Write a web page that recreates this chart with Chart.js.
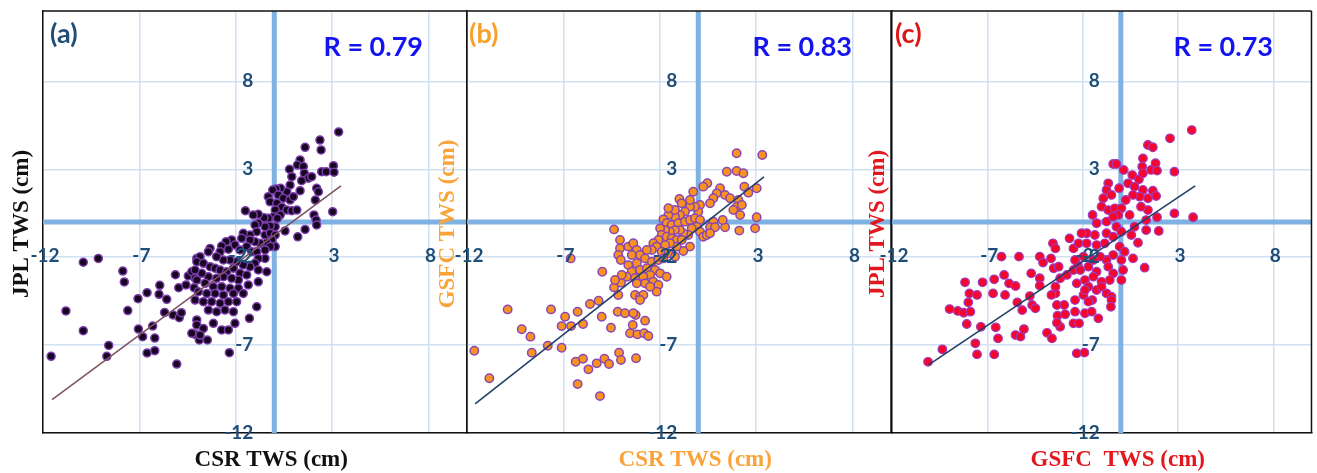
<!DOCTYPE html>
<html lang="en">
<head>
<meta charset="UTF-8" />
<title>TWS scatter comparison</title>
<script src="https://cdn.jsdelivr.net/npm/chart.js"></script>
<style>
  html, body { margin: 0; padding: 0; background: #fff; }
  #wrap { position: relative; width: 1317px; height: 473px; overflow: hidden; }
  #wrap canvas { position: absolute; left: 0; top: 0; }
</style>
</head>
<body>
<div id="wrap">
  <canvas id="chartA" width="1317" height="473"></canvas>
  <canvas id="chartB" width="1317" height="473"></canvas>
  <canvas id="chartC" width="1317" height="473"></canvas>
</div>
<script>
// tick values shared by all three panels
const xTicks = [-12, -7, -2, 3, 8];
const yTicks = [-12, -7, -2, 3, 8];

// (a) CSR vs JPL
const csrA = [-9.91,-9.13,-7.86,-7.78,-10.81,-9.91,-11.58,-8.59,-8.69,-7.6,-7.07,-6.6,-7.05,-6.83,-6.31,-6.2,-6.6,-6.2,-5.94,-5.98,-5.58,-5.69,-5.13,-4.96,-5.25,-4.93,-4.82,-5.06,-4.58,-4.46,-4.28,-4.11,-4.02,-4.16,-4.02,-4.11,-4.28,-4.02,-2.33,-0.91,-1.29,-3.89,-3.47,
  3.34,2.37,2.43,1.6,1.34,1.2,1.51,0.79,0.91,1.56,1.77,1.42,1.94,2.46,2.69,3.07,3.1,2.2,2.29,2.13,1.34,0.82,0.65,0.33,0.09,-0.08,0.21,0.47,0.82,0.99,-0.31,-0.22,0.13,0.39,0.65,0.91,1.17,0.05,0.31,-0.03,-0.31,-0.53,-0.83,-1.09,-1.5,3.03,2.06,2.17,2.2,1.6,1.22,0.56,0.16,0.05,-0.21,-0.48,-0.83,-1.0,-0.91,-1.26,-1.61,-1.69,-0.48,-0.21,0.05,-0.12,-0.39,0.05,-0.21,-0.74,-1.0,-1.26,-2.21,-2.04,-2.5,-2.73,-2.38,-2.81,-3.33,-3.42,-1.78,-1.43,-1.17,-0.91,-0.48,-0.48,-0.83,-1.0,-1.26,-0.39,-0.83,-1.61,-1.95,-2.3,-2.64,-2.99,-3.85,-4.02,-3.68,-3.33,-3.07,-2.81,-2.47,-2.12,-1.78,-1.43,-1.86,-2.21,-2.64,-2.99,-3.42,-3.76,-4.11,-4.02,-3.59,-3.16,-2.73,-2.3,-1.86,-0.83,-1.35,-1.61,-2.12,-2.64,-3.07,-3.5,-3.94,-4.11,-3.68,-3.25,-2.81,-2.38,-1.95,-3.42,-2.99,-2.56,-2.12,-3.68,-3.16,-2.73,-2.38,-2.04,-3.85];
const jplA = [-2.29,-2.07,-2.79,-3.41,-5.06,-6.18,-7.64,-7.02,-7.64,-5.04,-4.36,-4.02,-6.09,-6.52,-5.92,-6.6,-7.45,-7.32,-3.6,-4.11,-4.4,-5.14,-3.0,-3.74,-5.29,-5.44,-5.16,-8.08,-3.58,-3.07,-2.83,-3.2,-2.07,-3.74,-5.57,-6.39,-6.33,-5.86,-7.43,-4.82,-5.48,-6.71,-6.71,
  5.12,4.66,4.1,4.25,3.53,3.24,3.15,3.0,2.58,2.77,2.49,2.35,2.58,2.86,2.86,3.2,2.83,1.92,1.72,1.25,1.78,2.1,1.72,1.92,1.88,1.82,1.54,1.35,1.25,1.44,1.44,1.15,1.06,0.84,0.68,0.64,0.68,0.68,0.4,0.3,0.21,0.24,0.44,0.4,0.64,0.59,0.4,0.11,-0.17,-0.42,-0.84,-0.51,0.21,-0.27,-0.23,-0.27,-0.07,-0.17,-0.55,-0.74,-0.64,-0.93,-0.74,-0.64,-0.74,-1.02,-1.18,-1.4,-1.4,-1.21,-1.12,-1.02,-1.02,-1.31,-1.12,-1.37,-1.55,-1.69,-1.5,-1.69,-1.59,-1.4,-1.69,-1.69,-2.07,-1.59,-2.07,-2.35,-2.54,-2.83,-2.73,-2.45,-2.26,-2.16,-2.16,-1.97,-1.97,-2.26,-2.35,-2.54,-2.63,-2.73,-2.83,-2.63,-2.92,-3.01,-3.3,-3.2,-3.11,-3.2,-3.11,-2.92,-2.73,-3.3,-3.49,-3.68,-3.68,-3.77,-3.77,-3.4,-3.58,-4.06,-4.06,-4.15,-4.06,-4.06,-3.96,-4.44,-4.53,-4.53,-4.62,-4.53,-4.53,-5.01,-5.1,-5.01,-5.1,-6.05,-5.76,-6.14,-6.14,-5.76,-6.43];

// (b) CSR vs GSFC
const csrB = [-9.89,-7.64,-9.16,-8.71,-11.62,-10.84,-8.64,-7.81,-7.09,-7.09,-6.91,-6.6,-6.26,-5.98,-5.62,-5.17,-5.01,-4.53,-4.18,-4.37,-4.01,-4.15,-6.36,-5.98,-5.7,-5.27,-4.87,-4.63,-4.11,-4.01,-6.26,-5.1,-3.23,-3.8,-3.25,-2.76,-3.4,-3.54,-3.16,-2.81,-2.59,-4.98,-4.37,-6.62,
  1.99,3.32,1.48,1.99,2.34,0.47,0.26,-0.26,-0.98,2.39,3.03,2.6,1.13,0.96,0.78,0.61,1.39,1.65,2.08,1.99,2.26,1.82,2.17,3.03,2.95,2.13,1.39,1.27,0.78,0.61,0.09,0.0,-0.17,-0.43,-0.69,-0.95,-1.21,-1.55,-1.81,-1.64,-1.38,-1.03,-0.69,-0.43,-0.17,0.09,-0.08,-0.34,0.09,0.26,0.44,-0.52,-0.78,-0.95,-1.21,-1.47,-1.72,-1.98,-1.9,-1.64,-1.38,-1.12,-0.86,-0.43,-0.78,-1.12,-1.47,-1.72,-2.07,-2.33,-2.16,-2.41,-1.9,-1.55,-1.21,-4.06,-4.06,-4.15,-4.02,-3.63,-3.37,-3.19,-3.45,-3.02,-2.67,-2.76,-2.41,-2.07,-1.81,-3.19,-3.63,-3.45,-3.02,-2.67,-2.24,-1.98,-1.64,-2.5,-2.85,-3.28,-3.71,-3.97,-3.19,-2.76,-2.33,-2.07,-2.16,-2.5,-4.32,-3.28,-3.02,-2.85,-3.02,-3.37,0.87,0.61,-0.86,-1.21,-1.55,-0.43];
const gsfcB = [-4.97,-4.97,-6.1,-6.52,-7.32,-8.89,-7.43,-7.04,-7.15,-5.92,-5.39,-5.92,-5.1,-5.8,-4.66,-4.48,-5.39,-6.01,-5.1,-3.72,-3.45,-4.15,-7.95,-7.78,-8.38,-8.04,-7.78,-8.08,-7.43,-7.85,-9.22,-9.9,-7.75,-5.19,-5.29,-5.61,-5.86,-6.33,-6.39,-6.33,-6.48,-2.83,-0.42,-2.07,
  3.91,3.81,2.86,2.9,2.77,2.2,2.01,1.72,1.31,2.01,1.92,1.67,1.92,1.63,1.35,1.06,1.54,1.35,1.25,0.87,0.97,0.68,0.4,0.27,-0.36,-0.49,-0.3,0.11,0.02,-0.3,0.97,0.59,0.87,0.87,0.59,0.4,0.3,0.4,0.15,-0.07,-0.17,-0.07,0.02,0.11,0.21,0.11,-0.27,-0.36,-0.55,-0.84,-0.74,-0.74,-0.64,-0.46,-0.46,-0.55,-0.46,-0.36,-0.74,-0.84,-0.93,-1.02,-1.02,-1.4,-1.65,-1.4,-1.21,-1.31,-1.02,-1.21,-1.4,-1.59,-1.69,-1.78,-1.97,-1.02,-1.5,-1.88,-2.16,-1.4,-1.21,-1.59,-1.88,-1.88,-1.59,-2.07,-2.26,-2.16,-2.07,-2.35,-2.45,-2.83,-2.73,-2.63,-2.73,-2.92,-3.11,-3.01,-3.11,-3.2,-3.11,-3.01,-3.49,-3.49,-3.4,-3.58,-3.96,-3.68,-3.3,-4.15,-4.25,-4.15,-4.44,-5.19,-0.3,-0.64,1.06,0.68,0.78,1.25];

// (c) GSFC vs JPL
const gsfcC = [-10.11,-9.36,-7.63,-7.54,-6.64,-6.56,-6.44,-7.34,-8.08,-8.98,-8.55,-8.24,-7.89,-8.0,-7.94,-7.54,-8.17,-7.25,-6.64,-6.7,-6.12,-5.86,-5.52,-6.07,-6.26,-5.34,-5.43,-5.17,-4.77,-4.7,-4.65,-4.48,-5.52,-5.26,-5.08,-4.25,-4.08,-4.25,-4.25,-3.87,-3.61,-3.56,-3.43,-3.66,-3.52,-3.26,-3.43,-3.35,-2.97,-3.32,-2.92,-3.18,-3.18,-2.69,-2.48,-2.83,-2.48,-2.4,-2.4,-2.48,-2.31,-1.91,-3.43,-3.64,-3.35,-2.26,
  3.72,2.58,1.42,1.68,1.16,-0.4,-0.23,0.15,1.12,1.59,1.82,1.9,2.81,0.6,0.95,1.16,-0.66,-0.09,0.38,0.72,1.16,1.68,1.85,1.42,0.99,0.64,0.26,-0.75,-0.92,-0.49,-1.01,-0.66,-0.31,0.03,-0.14,-0.4,0.46,1.42,1.9,2.81,3.79,-1.48,-0.75,-1.27,-0.23,0.03,0.72,1.33,1.99,0.55,0.9,-0.75,-0.4,-1.36,-1.79,-2.22,-1.79,-1.27,-0.84,-0.06,0.2,0.64,1.25,0.03,-0.4,-0.75,-1.09,-1.44,-1.96,-2.4,-2.13,-1.7,-1.27,-0.66,-0.4,0.12,0.03,-0.58,-1.01,-1.44,-1.88,-2.31,-1.7,-1.27,-0.75,-0.49,-1.96,-1.88,-1.53,-1.18,-2.19,-1.5,-0.49,-0.52,-1.01,-1.88,-1.7,-2.06,1.06,1.33];
const jplC = [-7.95,-7.24,-6.9,-7.53,-7.53,-5.99,-6.62,-5.96,-5.8,-4.95,-5.06,-5.16,-5.1,-4.57,-4.06,-4.15,-3.43,-3.43,-3.26,-4.06,-3.01,-3.49,-3.64,-4.15,-1.97,-1.97,-4.57,-5.01,-4.21,-2.92,-4.72,-4.91,-6.43,-6.52,-6.09,-1.97,-2.31,-3.2,-3.62,-6.3,-6.62,-1.21,-1.5,-2.07,-2.63,-2.54,-4.06,-4.72,-4.72,-5.33,-5.25,-5.96,-3.2,-0.93,-1.5,-3.01,-2.73,-4.44,-5.1,-5.76,-7.47,-7.43,-3.68,-4.15,-5.73,-2.45,
  5.23,4.76,4.38,4.25,3.62,3.3,3.3,2.96,3.15,2.96,3.34,2.92,2.86,2.67,2.43,2.77,2.2,1.92,2.2,2.01,1.82,1.78,1.48,1.35,1.44,1.54,1.25,1.82,1.35,1.54,0.87,0.68,0.78,0.78,0.4,0.3,0.4,0.68,0.27,0.49,0.27,0.4,0.02,-0.07,-0.27,-0.55,-0.27,-0.46,-0.51,-0.74,-1.18,-0.64,-0.84,-0.74,-0.64,-1.21,-1.21,-1.31,-1.21,-1.4,-1.69,-2.07,-2.6,-2.16,-1.88,-2.16,-1.97,-2.16,-1.97,-2.16,-2.73,-2.54,-2.83,-2.54,-2.92,-2.73,-3.3,-3.3,-3.4,-3.11,-3.3,-3.49,-3.68,-3.87,-4.06,-4.25,-4.15,-5.19,-5.1,-5.48,-5.76,-4.44,-4.44,-4.82,-3.68,-3.87,-4.53,-0.64,0.87,0.11];

// fitted trend lines, end points
const fitXA = [-11.53, 3.46], fitYA = [-10.1, 2.05];
const fitXB = [-11.58, 3.41], fitYB = [-10.35, 2.56];
const fitXC = [-10.08, 3.9],  fitYC = [-8.13, 2.05];

const rValues = ['0.79', '0.83', '0.73'];

const toPoints = (xs, ys) => xs.map((x, i) => ({ x: x, y: ys[i] }));

const gridBlue = '#cfe1f3';
const axisBlue = '#7fb2e2';
const tickColor = '#1f4e79';

function panelPlugin(cfg) {
  return {
    id: 'panelDeco',
    afterDraw(chart) {
      const ctx = chart.ctx;
      const a = chart.chartArea;
      const xs = chart.scales.x, ys = chart.scales.y;
      const x0 = xs.getPixelForValue(0), y0 = ys.getPixelForValue(0);
      ctx.save();
      // frame
      ctx.strokeStyle = '#111';
      ctx.lineWidth = 1.5;
      ctx.beginPath();
      ctx.moveTo(a.left, a.top); ctx.lineTo(a.right, a.top);
      ctx.moveTo(a.right, a.top); ctx.lineTo(a.right, a.bottom);
      ctx.stroke();

      // tick labels sit inside the plot near the zero lines
      ctx.fillStyle = tickColor;
      ctx.font = 'bold 19px Lato';
      ctx.textBaseline = 'middle';
      ctx.textAlign = 'center';
      xTicks.forEach(v => ctx.fillText(String(v), xs.getPixelForValue(v) + 2, y0 + 34));
      ctx.textAlign = 'right';
      yTicks.forEach(v => ctx.fillText(String(v), x0 - 21, ys.getPixelForValue(v)));

      // panel letter
      ctx.textAlign = 'left';
      ctx.font = 'bold 27px Lato';
      ctx.fillStyle = cfg.letterColor;
      ctx.fillText(cfg.letter, a.left + cfg.letterDx, 34);

      // correlation
      ctx.textAlign = 'right';
      ctx.font = 'bold 27px Lato';
      ctx.fillStyle = '#1414f0';
      ctx.fillText('R = ' + cfg.r, a.left + cfg.rDx, 47);

      // axis titles
      ctx.font = 'bold 23px "Liberation Serif"';
      ctx.fillStyle = cfg.titleColor;
      ctx.textAlign = 'center';
      ctx.fillText(cfg.xTitle, x0 - 3, 460);
      ctx.translate(a.left - cfg.yTitleDx, y0 + 2);
      ctx.rotate(-Math.PI / 2);
      ctx.fillStyle = cfg.yTitleColor;
      ctx.fillText(cfg.yTitle, 0, 0);
      ctx.restore();
    }
  };
}

function makePanel(id, pts, fit, style, pad, deco) {
  return new Chart(document.getElementById(id), {
    type: 'scatter',
    data: {
      datasets: [
        {
          type: 'line', data: fit, borderColor: style.fitColor, borderWidth: 1.6,
          pointRadius: 0, fill: false, order: 0
        },
        {
          data: pts, backgroundColor: style.fill, borderColor: style.edge,
          borderWidth: style.edgeWidth, pointRadius: style.radius, order: 1
        },
        {
          type: 'line', data: [{ x: -12, y: 0 }, { x: 10, y: 0 }], borderColor: axisBlue,
          borderWidth: 5, pointRadius: 0, fill: false, order: 2
        },
        {
          type: 'line', data: [{ x: 0, y: -12 }, { x: 0, y: 12 }], borderColor: axisBlue,
          borderWidth: 5, pointRadius: 0, fill: false, order: 2
        }
      ]
    },
    options: {
      responsive: false,
      animation: false,
      events: [],
      layout: { padding: pad },
      plugins: { legend: { display: false }, tooltip: { enabled: false } },
      scales: {
        x: {
          type: 'linear', min: -12, max: 10,
          afterBuildTicks: s => { s.ticks = xTicks.map(v => ({ value: v })); },
          ticks: { display: false },
          grid: { color: gridBlue, lineWidth: 1.5, drawTicks: false },
          border: { display: true, color: '#111', width: 1.5 }
        },
        y: {
          type: 'linear', min: -12, max: 12,
          afterBuildTicks: s => { s.ticks = yTicks.map(v => ({ value: v })); },
          ticks: { display: false },
          grid: { color: gridBlue, lineWidth: 1.5, drawTicks: false },
          border: { display: true, color: '#111', width: 1.5 }
        }
      }
    },
    plugins: [panelPlugin(deco)]
  });
}

makePanel('chartA', toPoints(csrA, jplA), toPoints(fitXA, fitYA),
  { fill: '#16061f', edge: '#7b3cab', edgeWidth: 1.5, radius: 4, fitColor: '#7d5560' },
  { left: 43, right: 850, top: 11, bottom: 40 },
  { letter: '(a)', letterColor: '#1f4e79', letterDx: 7, r: rValues[0], rDx: 380,
    xTitle: 'CSR TWS (cm)', yTitle: 'JPL TWS (cm)', titleColor: '#111', yTitleColor: '#111', yTitleDx: 21 });

makePanel('chartB', toPoints(csrB, gsfcB), toPoints(fitXB, fitYB),
  { fill: '#f7931e', edge: '#8a46b4', edgeWidth: 1.5, radius: 4.2, fitColor: '#233f68' },
  { left: 467, right: 426, top: 11, bottom: 40 },
  { letter: '(b)', letterColor: '#f8a02c', letterDx: 2, r: rValues[1], rDx: 385,
    xTitle: 'CSR TWS (cm)', yTitle: 'GSFC TWS (cm)', titleColor: '#f9a33a', yTitleColor: '#f9a33a', yTitleDx: 19 });

makePanel('chartC', toPoints(gsfcC, jplC), toPoints(fitXC, fitYC),
  { fill: '#f5062c', edge: '#9f3cc4', edgeWidth: 1.2, radius: 4.3, fitColor: '#233f68' },
  { left: 892, right: 2, top: 11, bottom: 40 },
  { letter: '(c)', letterColor: '#dd1515', letterDx: 3, r: rValues[2], rDx: 381,
    xTitle: 'GSFC  TWS (cm)', yTitle: 'JPL TWS (cm)', titleColor: '#e4161e', yTitleColor: '#e4161e', yTitleDx: 14 });
</script>
</body>
</html>
